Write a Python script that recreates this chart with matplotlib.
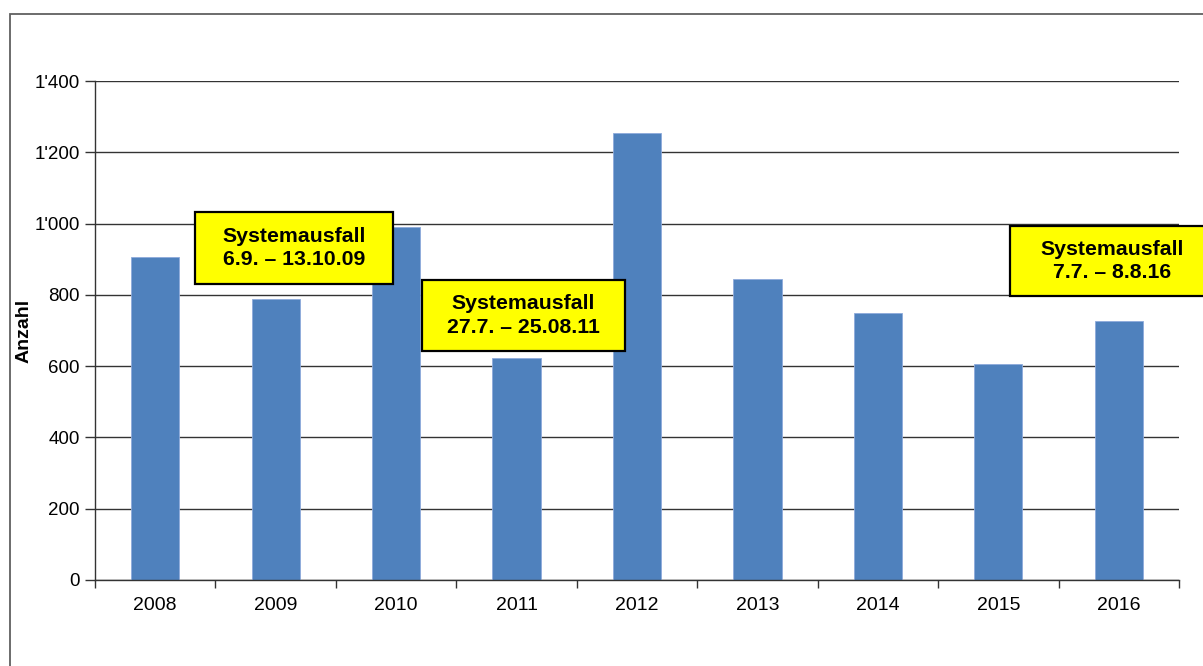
import matplotlib
matplotlib.use("Agg")
import matplotlib.pyplot as plt
from matplotlib.patches import Rectangle

years = ["2008", "2009", "2010", "2011", "2012", "2013", "2014", "2015", "2016"]
counts = [905, 788, 990, 624, 1254, 844, 749, 607, 727]
y_ticks = [0, 200, 400, 600, 800, 1000, 1200, 1400]
y_tick_labels = ["0", "200", "400", "600", "800", "1'000", "1'200", "1'400"]
notes = ["Systemausfall\n6.9. \u2013 13.10.09",
         "Systemausfall\n27.7. \u2013 25.08.11",
         "Systemausfall\n7.7. \u2013 8.8.16"]

plt.rcParams['font.family'] = ['Liberation Sans', 'DejaVu Sans']

fig = plt.figure(figsize=(12.03, 6.66), dpi=100)
ax = fig.add_axes([95/1203, 86/666, (1179-95)/1203, (580-81)/666])

x = list(range(len(years)))
ax.bar(x, counts, width=0.4, color="#4F81BD", edgecolor="#8EAADB", linewidth=0.6, zorder=3)

ax.set_xlim(-0.5, len(years) - 0.5)
ax.set_ylim(0, 1400)
ax.set_yticks(y_ticks)
ax.set_yticklabels(y_tick_labels, fontsize=13.5)
ax.set_xticks(x)
ax.set_xticklabels(years, fontsize=14)
ax.set_xticks([i + 0.5 for i in range(-1, len(years))], minor=True)
ax.tick_params(axis='x', which='major', length=0, pad=12)
ax.tick_params(axis='x', which='minor', length=6, width=1, color="#333333", direction='out')
ax.tick_params(axis='y', length=7, width=1, color="#333333", pad=4)
ax.yaxis.grid(True, color="#333333", linewidth=1.0, zorder=0)
ax.set_axisbelow(True)
for s in ["top", "right"]:
    ax.spines[s].set_visible(False)
for s in ["left", "bottom"]:
    ax.spines[s].set_color("#333333")
    ax.spines[s].set_linewidth(1.0)
ax.spines["bottom"].set_zorder(4)
ax.set_ylabel("Anzahl", fontsize=14, fontweight='bold')
ax.yaxis.set_label_coords((33 - 95) / 1084, 0.5)

# outer frame
fig.patches.append(Rectangle((9.5/1203, -0.1), 1.2, (666-14)/666 + 0.1,
                             transform=fig.transFigure, fill=False,
                             edgecolor="#606060", linewidth=1.3, zorder=0))

boxes = [(195, 212, 393, 284), (422, 280, 625, 351), (1010, 226, 1215, 296)]
for (x0, y0, x1, y1), txt in zip(boxes, notes):
    r = Rectangle((x0/1203, (666-y1)/666), (x1-x0)/1203, (y1-y0)/666,
                  transform=fig.transFigure, facecolor="#FFFF00",
                  edgecolor="black", linewidth=1.6, zorder=10)
    fig.patches.append(r)
    fig.text((x0+x1)/2/1203, (666-(y0+y1)/2)/666, txt, ha='center', va='center',
             fontsize=15.3, fontweight='bold', linespacing=1.3, zorder=11)

fig.savefig("out.png", dpi=100)
